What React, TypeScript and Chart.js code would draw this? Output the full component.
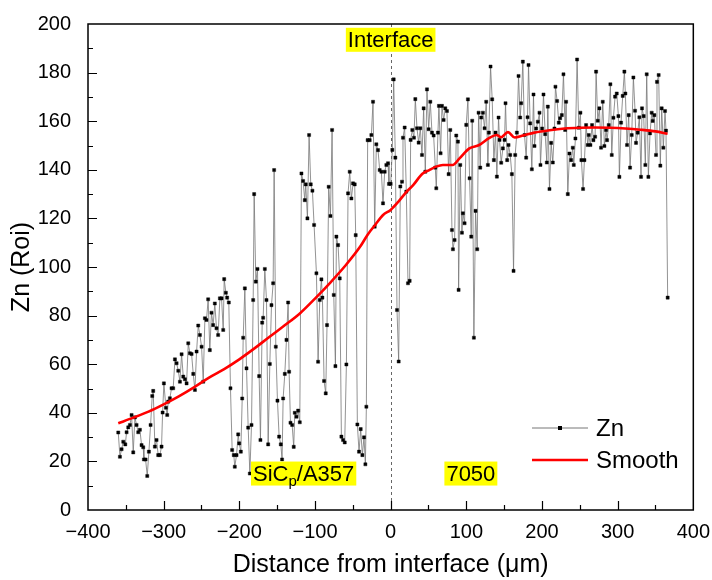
import React, { useEffect, useRef } from 'react';
import { Chart, registerables } from 'chart.js';

Chart.register(...registerables);

const FONT = "'Liberation Sans', Arial, Helvetica, sans-serif";

// Zn line-scan (distance in µm, Zn counts)
const znDistance: number[] = [
  -360.0, -357.8, -355.6, -353.4, -350.7, -349.0, -346.8, -344.6, -342.4, -340.2, -338.0, -335.8, -333.6, -331.4, -329.2, -327.0, -326.1, -323.9, -321.7, -319.5,
  -317.3, -315.1, -313.8, -311.6, -309.4, -307.2, -305.0, -302.8, -301.4, -299.7, -297.0, -295.3, -294.0, -291.8, -289.6, -287.4, -285.1, -282.9, -280.7, -278.5,
  -276.3, -274.1, -271.9, -269.7, -267.5, -265.3, -263.1, -260.9, -258.7, -256.5, -254.3, -252.1, -249.9, -247.7, -245.5, -243.4, -241.2, -239.0, -236.8, -234.6,
  -232.4, -230.2, -228.0,
  -225.7, -223.5, -221.3, -220.0, -217.8, -216.1, -213.9, -211.7, -209.5, -207.3, -206.0, -203.7, -201.5, -200.2, -198.0, -196.2, -194.9, -192.7, -190.5, -188.3,
  -186.1, -183.9, -181.7, -180.4, -178.2, -176.0, -173.8, -172.1, -169.8, -168.5, -166.3, -164.1, -161.9, -159.7, -157.5, -155.3, -154.0, -151.8, -149.6, -147.4,
  -145.2, -143.5, -142.1, -139.9, -137.7, -135.5, -134.2, -132.4, -130.2, -128.1, -126.7, -124.5, -122.3, -120.1, -117.9, -115.7, -113.5, -112.2, -110.0, -107.8,
  -105.6, -103.4, -101.2, -98.1, -95.9, -93.7, -91.5, -90.2, -88.0, -85.8, -84.1, -81.9, -79.6, -77.4, -75.2, -73.0, -71.7, -69.5, -67.3, -65.1,
  -62.9, -60.7, -58.5, -56.3, -54.1, -51.9, -49.7, -47.5, -46.2, -44.0, -41.8, -39.6, -37.4, -35.2, -33.4, -32.1, -30.4, -27.7, -25.5, -23.3,
  -21.1, -18.9, -16.7,
  -14.5, -12.3, -10.1, -7.9, -5.7, -3.5, -2.2, 0.0, 2.2, 4.0, 6.2, 8.4, 10.6, 12.8, 15.0, 16.3, 18.5, 20.7, 22.9, 25.1,
  26.4, 28.6, 30.8, 32.6, 34.8, 37.0, 39.2, 41.4, 43.6, 45.8, 48.0, 50.2, 52.4, 54.6, 56.8, 59.0, 60.3, 62.5, 63.8, 66.0,
  67.8, 70.0, 72.2, 74.4, 76.6, 78.8, 81.0, 82.3, 84.5, 86.7, 88.9, 89.8, 92.0, 94.2, 95.5, 97.7, 99.9, 102.1, 104.3, 106.5,
  107.8, 110.0, 112.2, 114.4, 116.2, 118.4, 119.7, 121.9, 124.1, 126.3, 128.5, 129.8, 132.0, 134.2, 136.4, 138.6, 140.4, 142.6, 143.9, 146.1,
  148.3, 150.5, 151.8, 154.0, 155.8, 158.0, 160.2, 162.4, 164.6, 166.8, 169.0, 171.2, 172.5, 174.7, 176.9, 179.1, 180.9,
  182.2, 184.4, 186.6, 188.8, 190.1, 192.3, 194.5, 196.7, 198.0, 200.2, 202.0, 204.2, 206.4, 207.7, 209.9, 212.1, 214.3, 216.5, 217.8, 220.0,
  222.2, 224.0, 226.2, 228.4, 230.6, 231.9, 234.1, 236.3, 238.5, 240.7, 242.0, 244.2, 246.4, 248.6, 250.8, 252.1, 254.3, 256.1, 258.3, 260.5,
  261.8, 264.0, 266.2, 268.0, 270.2, 271.5, 273.7, 275.9, 278.1, 280.3, 282.5, 284.7, 286.0, 288.2, 290.4, 292.2, 294.4, 296.6, 298.8, 301.0,
  302.3, 304.5, 306.7, 308.9, 310.2, 312.4, 314.6, 316.4, 318.6, 320.8, 323.0, 324.3, 326.5, 328.7, 330.9, 332.2, 334.4, 336.6, 338.4, 340.6,
  342.8, 345.0, 346.3, 348.5, 350.7, 352.0, 354.2, 356.4, 358.2, 360.4, 362.6, 363.9, 366.1,
];

const znValue: number[] = [
  31.9, 21.9, 25.0, 28.1, 27.0, 32.0, 34.0, 35.0, 39.1, 23.7, 38.1, 35.0, 32.0, 33.0, 26.7, 25.8, 20.8, 20.8, 14.0, 24.0,
  35.0, 46.9, 49.0, 26.1, 28.8, 22.6, 22.6, 26.1, 40.1, 52.1, 42.1, 39.1, 44.6, 46.0, 50.1, 50.1, 62.0, 60.4, 57.3, 52.8,
  64.1, 54.9, 53.8, 52.1, 68.6, 64.5, 64.2, 56.0, 49.4, 65.2, 75.9, 72.0, 67.2, 52.8, 78.9, 78.2, 86.7, 65.8, 81.2, 76.1,
  85.0, 74.8, 72.0,
  87.1, 87.1, 74.1, 95.0, 89.4, 87.4, 85.4, 50.1, 24.7, 22.6, 17.8, 22.6, 31.1, 27.4, 24.0, 45.9, 70.9, 91.2, 58.3, 33.9,
  15.0, 35.0, 86.4, 130.0, 94.0, 99.2, 55.1, 28.8, 77.1, 79.1, 99.2, 86.4, 27.0, 60.1, 84.3, 93.3, 139.9, 67.2, 45.0, 30.2,
  27.0, 20.8, 45.9, 56.0, 70.0, 85.4, 56.9, 35.9, 35.0, 26.0, 40.0, 38.4, 40.9, 36.1, 138.5, 135.4, 127.5, 134.0, 120.0, 154.3,
  134.0, 131.4, 117.3, 97.4, 61.0, 86.4, 94.9, 87.4, 53.1, 48.0, 76.1, 133.0, 121.0, 156.4, 88.5, 59.2, 112.5, 109.0, 95.3, 30.2,
  28.8, 27.8, 59.9, 130.3, 139.2, 128.2, 134.4, 134.0, 113.1, 35.2, 24.0, 33.3, 22.6, 29.9, 18.8, 42.5, 152.2, 152.2, 154.3, 168.0,
  116.6, 150.5, 148.1,
  139.9, 139.2, 126.2, 139.2, 142.0, 142.7, 134.2, 134.2, 148.2, 177.2, 145.0, 82.3, 61.1, 133.1, 135.1, 153.2, 157.4, 131.0, 93.3, 94.3,
  152.3, 156.4, 153.2, 169.1, 157.1, 151.2, 157.1, 146.1, 165.3, 139.2, 173.1, 156.7, 168.0, 155.3, 154.1, 140.9, 132.4, 155.3, 166.3, 146.8,
  166.3, 160.5, 165.3, 164.2, 138.2, 156.4, 115.2, 107.3, 111.1, 154.1, 151.6, 90.6, 142.0, 114.1, 122.1, 118.0, 158.5, 169.0, 136.5, 112.5,
  160.2, 70.9, 123.1, 107.3, 163.5, 140.9, 161.5, 163.5, 157.1, 168.0, 142.0, 155.3, 182.5, 169.0, 144.0, 155.3, 137.2, 161.5, 152.3, 142.9,
  148.8, 152.3, 167.4, 144.0, 150.2, 146.1, 138.2, 98.4, 146.1, 155.3, 178.6, 161.5, 167.4, 184.5, 154.3, 145.0, 161.6,
  183.1, 159.1, 140.2, 171.0, 149.8, 157.0, 159.8, 163.5, 142.0, 157.0, 171.0, 154.7, 143.0, 166.0, 132.1, 151.1, 143.0, 157.0, 174.2, 168.3,
  159.4, 161.2, 162.5, 179.3, 156.4, 168.0, 130.0, 146.7, 144.0, 149.1, 142.0, 152.9, 185.4, 157.3, 163.5, 144.0, 132.1, 144.0, 158.4, 150.2,
  154.3, 150.2, 158.4, 152.2, 153.6, 180.4, 160.2, 165.3, 149.1, 168.0, 149.8, 156.4, 152.2, 158.4, 175.2, 146.1, 161.4, 170.1, 171.4, 162.1,
  137.1, 159.4, 170.4, 180.4, 171.4, 150.2, 162.5, 140.9, 154.3, 178.0, 164.3, 151.1, 155.3, 161.6, 137.1, 165.3, 162.1, 142.0, 179.3, 137.1,
  155.0, 163.5, 160.1, 162.5, 146.1, 176.2, 179.0, 141.7, 165.3, 149.1, 164.2, 156.1, 87.4,
];

// Smoothed curve
const smoothDistance: number[] = [
  -360, -340, -320, -300, -280, -260, -240, -220, -200, -180, -160, -140, -120, -100, -80, -60, -40, -30, -20, -10,
  0, 10, 20, 30, 42, 51, 60, 69, 82, 91, 104, 117, 130, 140, 146, 155, 164, 175, 190, 210, 230, 250, 270, 290, 310, 330, 350, 366,
];
const smoothValue: number[] = [
  35.7, 38.0, 40.5, 43.5, 46.8, 50.5, 54.5, 58.0, 62.0, 66.5, 71.3, 76.0, 80.9, 87.0, 93.5, 100.5, 108.5, 113.5, 117.5, 121.4,
  123.5, 126.8, 130.6, 133.8, 138.4, 139.9, 141.3, 142.0, 142.0, 144.7, 148.8, 150.2, 153.0, 154.3, 153.4, 155.5, 153.3, 154.1, 155.3, 156.3,
  157.0, 157.3, 157.4, 157.3, 157.0, 156.5, 155.8, 154.8,
];

const xMin = -400, xMax = 400, xStep = 100;
const yMin = 0, yMax = 200, yStep = 20;
const interfaceAt = 0;

const seriesNames = ['Zn', 'Smooth'];
const regionLabels = [
  { text: 'Interface', x: 0, y: 193.5 },
  { text: '7050', x: 106, y: 15 },
];
const compositeLabel = { parts: ['SiC', 'p', '/A357'], x: -115, y: 15 };

const ZN_LINE = '#777777';
const SMOOTH_RED = '#ff0000';

const fmtTick = (v: number) => (v < 0 ? '\u2212' + Math.abs(v) : String(v));

const decorPlugin = {
  id: 'decor',
  beforeDatasetsDraw(chart: any) {
    const { ctx, chartArea: a, scales } = chart;
    const px = Math.round(scales.x.getPixelForValue(interfaceAt)) + 0.5;
    ctx.save();
    ctx.strokeStyle = '#666';
    ctx.lineWidth = 1;
    ctx.setLineDash([3, 3]);
    ctx.beginPath();
    ctx.moveTo(px, a.top);
    ctx.lineTo(px, a.bottom);
    ctx.stroke();
    ctx.restore();
  },
  afterDatasetsDraw(chart: any) {
    const { ctx, scales } = chart;
    const { x, y } = scales;
    ctx.save();
    ctx.textBaseline = 'middle';
    const H = 24;
    for (const l of regionLabels) {
      ctx.font = `22px ${FONT}`;
      const w = ctx.measureText(l.text).width + 4;
      const cx = x.getPixelForValue(l.x);
      const cy = y.getPixelForValue(l.y);
      ctx.fillStyle = '#ffff00';
      ctx.fillRect(cx - w / 2, cy - H / 2, w, H);
      ctx.fillStyle = '#000';
      ctx.textAlign = 'left';
      ctx.fillText(l.text, cx - w / 2 + 2, cy + 1);
    }
    {
      const [a1, sub, a2] = compositeLabel.parts;
      ctx.font = `22px ${FONT}`;
      const w1 = ctx.measureText(a1).width;
      const w3 = ctx.measureText(a2).width;
      ctx.font = `15px ${FONT}`;
      const w2 = ctx.measureText(sub).width;
      const w = w1 + w2 + w3 + 4;
      const cx = x.getPixelForValue(compositeLabel.x);
      const cy = y.getPixelForValue(compositeLabel.y);
      ctx.fillStyle = '#ffff00';
      ctx.fillRect(cx - w / 2, cy - H / 2, w, H);
      ctx.fillStyle = '#000';
      ctx.textAlign = 'left';
      let tx = cx - w / 2 + 2;
      ctx.font = `22px ${FONT}`;
      ctx.fillText(a1, tx, cy + 1);
      tx += w1;
      ctx.font = `15px ${FONT}`;
      ctx.fillText(sub, tx, cy + 8);
      tx += w2;
      ctx.font = `22px ${FONT}`;
      ctx.fillText(a2, tx, cy + 1);
    }
    const lx0 = 532, lx1 = 588, tx = 596;
    const ly1 = 428, ly2 = 460;
    ctx.strokeStyle = ZN_LINE;
    ctx.lineWidth = 1;
    ctx.beginPath();
    ctx.moveTo(lx0, ly1);
    ctx.lineTo(lx1, ly1);
    ctx.stroke();
    ctx.fillStyle = '#000';
    ctx.fillRect((lx0 + lx1) / 2 - 2, ly1 - 2, 4, 4);
    ctx.strokeStyle = SMOOTH_RED;
    ctx.lineWidth = 2.5;
    ctx.beginPath();
    ctx.moveTo(lx0, ly2);
    ctx.lineTo(lx1, ly2);
    ctx.stroke();
    ctx.fillStyle = '#000';
    ctx.font = `24px ${FONT}`;
    ctx.textAlign = 'left';
    ctx.fillText(seriesNames[0], tx, ly1 + 1);
    ctx.fillText(seriesNames[1], tx, ly2 + 1);
    ctx.restore();
  },
  afterDraw(chart: any) {
    const { ctx, chartArea: a, scales } = chart;
    const { x, y } = scales;
    ctx.save();
    ctx.strokeStyle = '#000';
    ctx.lineWidth = 1.5;
    ctx.setLineDash([]);
    ctx.strokeRect(a.left, a.top, a.right - a.left, a.bottom - a.top);
    ctx.lineWidth = 1.2;
    ctx.beginPath();
    for (let v = xMin; v <= xMax; v += xStep / 2) {
      const major = (v - xMin) % xStep === 0;
      if (v === xMin || v === xMax) continue;
      const px = Math.round(x.getPixelForValue(v)) + 0.5;
      ctx.moveTo(px, a.bottom);
      ctx.lineTo(px, a.bottom - (major ? 9 : 5));
    }
    for (let v = yMin; v <= yMax; v += yStep / 2) {
      const major = (v - yMin) % yStep === 0;
      if (v === yMin || v === yMax) continue;
      const py = Math.round(y.getPixelForValue(v)) + 0.5;
      ctx.moveTo(a.left, py);
      ctx.lineTo(a.left + (major ? 9 : 5), py);
    }
    ctx.stroke();
    ctx.restore();
  },
};

export default function App() {
  const ref = useRef<HTMLCanvasElement | null>(null);
  useEffect(() => {
    if (!ref.current) return;
    const zn = znDistance.map((d, i) => ({ x: d, y: znValue[i] }));
    const sm = smoothDistance.map((d, i) => ({ x: d, y: smoothValue[i] }));
    const chart = new Chart(ref.current, {
      type: 'line',
      data: {
        datasets: [
          {
            label: seriesNames[0],
            data: zn,
            order: 2,
            borderColor: ZN_LINE,
            borderWidth: 0.8,
            pointStyle: 'rect',
            pointRadius: 2.2,
            pointBackgroundColor: '#000',
            pointBorderColor: '#000',
            pointBorderWidth: 0.4,
            tension: 0,
          },
          {
            label: seriesNames[1],
            data: sm,
            order: 1,
            borderColor: SMOOTH_RED,
            borderWidth: 2.6,
            pointRadius: 0,
            tension: 0.3,
            cubicInterpolationMode: 'monotone',
          },
        ],
      },
      options: {
        animation: false,
        responsive: false,
        layout: { padding: { left: 0, right: 10, top: 24, bottom: 0 } },
        plugins: { legend: { display: false }, tooltip: { enabled: false } },
        scales: {
          x: {
            type: 'linear',
            min: xMin,
            max: xMax,
            grid: { display: false },
            border: { display: false },
            ticks: {
              stepSize: xStep,
              autoSkip: false,
              maxRotation: 0,
              padding: 2,
              color: '#000',
              font: { family: FONT, size: 20 },
              callback: (v: any) => fmtTick(Number(v)),
            },
            title: {
              display: true,
              text: 'Distance from interface (\u03bcm)',
              color: '#000',
              font: { family: FONT, size: 25 },
              padding: { top: 0, bottom: 0 },
            },
            afterFit: (s: any) => {
              s.height = 70;
            },
          },
          y: {
            type: 'linear',
            min: yMin,
            max: yMax,
            grid: { display: false },
            border: { display: false },
            ticks: {
              stepSize: yStep,
              padding: 9,
              color: '#000',
              font: { family: FONT, size: 20 },
              callback: (v: any) => fmtTick(Number(v)),
            },
            title: {
              display: true,
              text: 'Zn (Roi)',
              color: '#000',
              font: { family: FONT, size: 25 },
              padding: { top: 7, bottom: 0 },
            },
            afterFit: (s: any) => {
              s.width = 88;
            },
          },
        },
      },
      plugins: [decorPlugin],
    });
    return () => chart.destroy();
  }, []);
  return (
    <div style={{ position: 'fixed', left: 0, top: 0, width: 712, height: 580, background: '#fff' }}>
      <canvas ref={ref} width={712} height={580} />
    </div>
  );
}
